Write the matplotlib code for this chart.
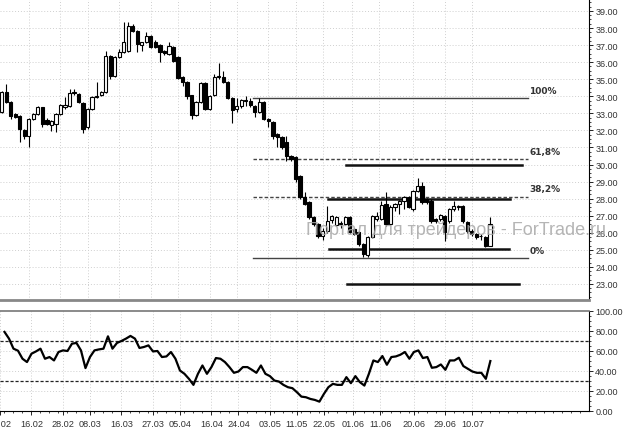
import numpy as np
import matplotlib.pyplot as plt

# daily candles
opens = [33.08, 34.25, 33.67, 32.96, 32.85, 32.02, 31.67, 32.67, 32.96, 33.37,
         32.61, 32.32, 32.38, 32.96, 33.37, 33.43, 34.25, 34.13, 33.61, 32.2,
         33.26, 33.96, 34.08, 34.25, 36.36, 35.19, 36.3, 36.6, 36.66, 38.12,
         37.83, 37.0, 37.18, 37.53, 37.18, 37.0, 36.66, 36.48, 36.89, 36.3,
         35.13, 34.84, 34.08, 32.9, 33.67, 34.78, 33.26, 34.08, 35.13, 35.13,
         34.84, 33.9, 33.26, 33.43, 33.75, 33.75, 33.43, 33.08, 33.67, 32.67,
         32.49, 31.8, 31.61, 31.32, 30.5, 30.44, 29.33, 28.1, 27.8, 26.92,
         26.51, 25.81, 26.1, 26.75, 26.46, 26.5, 26.51, 26.92, 26.22, 26.05,
         25.34, 24.7, 25.75, 26.81, 26.81, 27.69, 26.51, 27.51, 27.69, 27.86,
         28.1, 27.39, 28.45, 28.74, 27.98, 27.86, 26.81, 26.81, 26.98, 26.69,
         27.39, 27.5, 27.57, 26.63, 26.1, 25.93, 25.8, 25.75, 25.22]
closes = [34.25, 33.67, 32.85, 32.8, 32.08, 31.67, 32.67, 32.96, 33.37, 32.38,
          32.38, 32.55, 32.96, 33.49, 33.49, 34.19, 34.2, 33.67, 32.08, 33.26,
          33.96, 34.02, 34.25, 36.36, 35.19, 36.3, 36.6, 37.18, 38.12, 37.83,
          37.06, 37.18, 37.53, 36.89, 36.89, 36.6, 36.55, 36.95, 36.07, 35.07,
          34.84, 34.02, 32.9, 33.67, 34.78, 33.26, 34.02, 35.13, 35.16, 34.84,
          33.9, 33.2, 33.43, 33.78, 33.8, 33.49, 33.08, 33.67, 32.67, 32.55,
          31.67, 31.61, 31.03, 30.5, 30.32, 29.15, 28.1, 27.69, 26.92, 26.51,
          25.81, 26.1, 26.69, 26.98, 26.92, 26.55, 26.92, 26.05, 25.93, 25.34,
          24.76, 25.75, 26.98, 26.98, 27.63, 26.51, 27.51, 27.69, 27.86, 28.1,
          27.51, 28.45, 28.74, 27.8, 27.8, 26.69, 26.69, 27.04, 26.05, 27.39,
          27.57, 27.57, 26.69, 26.1, 25.93, 25.75, 25.83, 25.22, 26.51]
highs = [34.3, 34.72, 33.7, 33.0, 32.9, 32.1, 32.7, 33.0, 33.45, 33.4,
         32.7, 32.6, 33.0, 33.55, 33.96, 34.43, 34.43, 34.2, 33.65, 33.3,
         34.0, 34.84, 34.3, 36.66, 36.4, 36.35, 36.77, 38.36, 38.36, 38.24,
         37.9, 37.2, 37.77, 37.6, 37.3, 37.05, 36.7, 37.18, 36.95, 36.35,
         35.19, 34.9, 34.1, 33.75, 34.85, 34.85, 34.1, 35.3, 35.95, 35.5,
         34.9, 33.95, 33.9, 33.85, 34.02, 33.9, 33.5, 33.9, 33.7, 32.7,
         32.55, 31.85, 31.65, 31.67, 30.55, 30.5, 29.4, 28.4, 27.86, 27.0,
         26.6, 26.3, 27.57, 27.05, 27.0, 26.7, 27.0, 27.0, 26.3, 26.1,
         25.4, 25.8, 27.05, 27.2, 27.86, 28.4, 27.6, 27.75, 27.9, 28.15,
         28.15, 28.5, 29.2, 29.0, 28.05, 27.95, 26.85, 27.1, 27.05, 27.45,
         27.86, 27.65, 27.65, 26.7, 26.2, 26.0, 25.9, 25.8, 26.92]
lows = [33.0, 33.6, 32.67, 32.7, 31.32, 31.5, 31.03, 32.6, 32.9, 32.2,
        32.3, 31.96, 31.9, 32.9, 33.26, 33.37, 34.1, 33.6, 31.85, 32.1,
        33.2, 33.9, 34.0, 34.2, 35.0, 35.1, 36.25, 36.55, 36.6, 37.75,
        36.6, 36.66, 37.1, 36.8, 36.8, 36.0, 36.4, 36.4, 36.0, 35.0,
        34.6, 33.84, 32.67, 32.85, 33.6, 33.2, 33.2, 34.0, 35.0, 34.8,
        33.85, 32.43, 33.08, 33.3, 33.43, 33.4, 32.8, 33.0, 32.6, 32.2,
        31.5, 31.03, 30.9, 30.2, 30.2, 29.0, 28.0, 27.6, 26.8, 26.4,
        25.7, 25.6, 26.0, 26.6, 26.4, 26.3, 26.45, 26.0, 25.85, 25.25,
        24.58, 24.6, 25.7, 26.7, 26.75, 26.4, 26.45, 27.3, 27.1, 27.39,
        27.45, 27.3, 28.4, 27.7, 27.7, 26.6, 26.6, 26.69, 25.52, 26.6,
        27.3, 27.35, 26.6, 26.0, 25.8, 25.65, 25.6, 25.15, 25.2]

# RSI values per bar
rsi = [78.7, 72, 62, 60, 52, 48.7, 57, 59.3, 62, 52,
       53.7, 50.3, 58.7, 60.3, 59.7, 67, 67.7, 60.3, 42.7, 53.7,
       60.3, 61.3, 62, 74.3, 62, 67.7, 69.7, 72, 74.7, 72,
       62.7, 63.7, 65.3, 59.3, 59.7, 53.7, 54.3, 58.7, 52, 40.3,
       37, 32, 26, 37, 45.3, 37, 43.7, 52.7, 52, 48.7,
       43.7, 38, 39.3, 43.7, 43.7, 41, 38, 45.3, 37, 34.7,
       30.3, 29.3, 26, 23.7, 22.7, 18.7, 14.3, 13.7, 12, 11,
       9.3, 17, 23.7, 27, 26, 26, 33.7, 27.7, 34.7, 28.7,
       25.3, 37, 50.3, 48.7, 54.7, 46, 53.7, 54.3, 56, 58.7,
       52, 58.7, 60.3, 52.7, 53.7, 43, 43.7, 46.3, 41, 50.3,
       50.3, 53, 44.7, 42, 39.3, 38, 38, 32, 49.7]

date_labels = ['07.02', '16.02', '28.02', '08.03', '16.03', '27.03', '05.04', '16.04',
               '24.04', '03.05', '11.05', '22.05', '01.06', '11.06', '20.06', '29.06', '10.07']
date_bars = [-1, 6, 13, 19, 26, 33, 39, 46, 52, 59, 65, 71, 77.5, 83.5, 91, 98, 104]

# fibonacci grid
fib_high = 33.9
fib_low = 24.52
fib_levels = [1.0, 0.618, 0.382, 0.0]
fib_names = ['100%', '61,8%', '38,2%', '0%']
fib_start, fib_end = 55.6, 116.4

# hand drawn support / resistance lines: (price, start bar, end bar)
sr_lines = [(30.0, 76.1, 115.1), (27.95, 72.2, 112.5), (25.05, 72.4, 112.2), (23.0, 76.4, 114.5)]

idx = np.arange(len(opens))
o = np.array(opens); c = np.array(closes)
h = np.array(highs); l = np.array(lows)

fig = plt.figure(figsize=(6.24, 4.31), dpi=100)
ax = fig.add_axes([0, 1 - 301 / 431, 589 / 624, 301 / 431])
ax2 = fig.add_axes([0, 1 - 412 / 431, 589 / 624, 100.5 / 431])

xmin, xmax = -0.376, 129.93
grid_kw = dict(color='#cfcfcf', linestyle=(0, (1, 2)), linewidth=0.7, zorder=0)
tick_font = 'Liberation Sans'

# --- price panel ---
for p in range(23, 40):
    ax.axhline(p, **grid_kw)
for b in date_bars:
    ax.axvline(b, **grid_kw)
    ax2.axvline(b, **grid_kw)

ax.vlines(idx, l, h, color='black', linewidth=0.8, zorder=2)
up = c >= o
body_lo = np.minimum(o, c)
body_h = np.maximum(np.abs(c - o), 0.02)
ax.bar(idx[up], body_h[up], bottom=body_lo[up], width=0.72, color='white',
       edgecolor='black', linewidth=0.8, zorder=3)
ax.bar(idx[~up], body_h[~up], bottom=body_lo[~up], width=0.72, color='black',
       edgecolor='black', linewidth=0.8, zorder=3)

for lev, name in zip(fib_levels, fib_names):
    price = fib_low + lev * (fib_high - fib_low)
    ls = '-' if lev in (0.0, 1.0) else (0, (2.5, 1.5))
    ax.plot([fib_start, fib_end], [price, price], color='#444444', linewidth=1.0,
            linestyle=ls, zorder=1)
    ax.text(fib_end + 0.3, price + 0.2, name, fontsize=6.5, fontweight='bold',
            color='#333333', ha='left', va='bottom')

for price, x0, x1 in sr_lines:
    ax.plot([x0, x1], [price, price], color='#111111', linewidth=1.8, zorder=1)

ax.set_xlim(xmin, xmax)
ax.set_ylim(22.06, 39.70)
ax.yaxis.tick_right()
ax.set_yticks(range(23, 40))
ax.set_yticklabels(['%.2f' % v for v in range(23, 40)], family=tick_font)
ax.set_yticks(np.arange(22.25, 39.7, 0.25), minor=True)
ax.set_xticks([])
ax.tick_params(axis='y', which='major', labelsize=6.5, labelcolor='#333333',
               length=3, width=0.6, pad=1.5)
ax.tick_params(axis='y', which='minor', length=1.5, width=0.5)
for s in ['top', 'left']:
    ax.spines[s].set_visible(False)
ax.spines['right'].set_linewidth(0.8)
ax.spines['bottom'].set_color('#888888')
ax.spines['bottom'].set_linewidth(2)

# --- RSI panel ---
for v in [20, 40, 60, 80]:
    ax2.axhline(v, **grid_kw)
ax2.axhline(70, color='#222222', linestyle=(0, (2.5, 1.5)), linewidth=0.9)
ax2.axhline(30, color='#222222', linestyle=(0, (2.5, 1.5)), linewidth=0.9)
ax2.plot(idx, rsi, color='black', linewidth=1.6, zorder=3)
ax2.set_xlim(xmin, xmax)
ax2.set_ylim(0, 100)
ax2.yaxis.tick_right()
ax2.set_yticks([0, 20, 40, 60, 80, 100])
ax2.set_yticklabels(['%.2f' % v for v in [0, 20, 40, 60, 80, 100]], family=tick_font)
ax2.set_yticks(np.arange(5, 100, 5), minor=True)
ax2.set_xticks(date_bars)
ax2.set_xticklabels(date_labels, family=tick_font)
ax2.set_xticks(np.arange(0, 130, 2), minor=True)
ax2.tick_params(axis='y', which='major', labelsize=6.5, labelcolor='#333333',
                length=3, width=0.6, pad=1.5)
ax2.tick_params(axis='y', which='minor', length=1.5, width=0.5)
ax2.tick_params(axis='x', which='major', labelsize=6.6, labelcolor='#333333',
                length=3, width=0.6, pad=3)
ax2.tick_params(axis='x', which='minor', length=1.5, width=0.5)
ax2.spines['left'].set_visible(False)
ax2.spines['top'].set_color('#777777')
ax2.spines['top'].set_linewidth(1.2)
ax2.spines['right'].set_linewidth(0.8)
ax2.spines['bottom'].set_linewidth(0.8)

# watermark
fig.text(306 / 624, 1 - 230 / 431, 'Портал для трейдеров - ForTrade.ru', fontsize=13,
         family='Liberation Sans', color='#a8a8a8', alpha=0.85, ha='left', va='center')

plt.savefig('out.png', dpi=100)
